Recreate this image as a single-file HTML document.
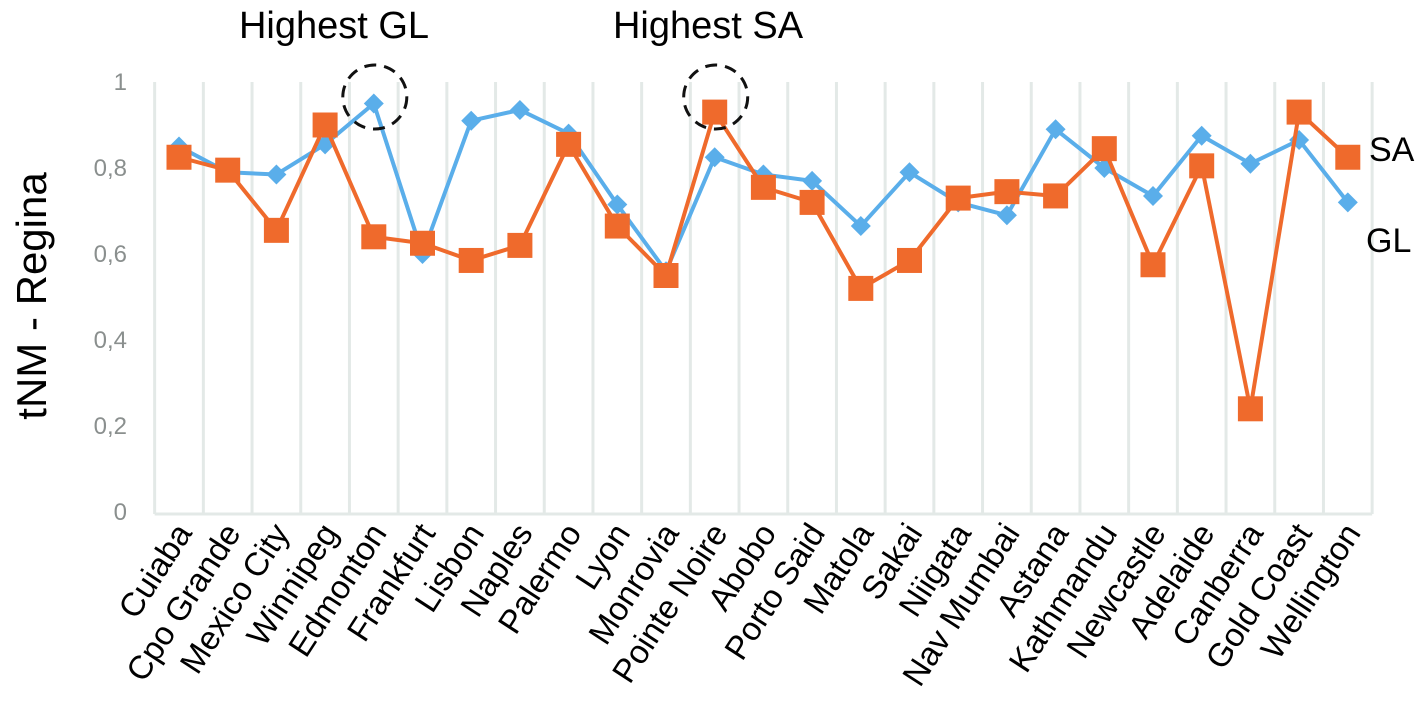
<!DOCTYPE html>
<html><head><meta charset="utf-8"><style>
body{margin:0;background:#fff;}
svg{display:block;font-family:"Liberation Sans",sans-serif;}
</style></head><body>
<svg id="chart" width="1421" height="708" viewBox="0 0 1421 708" xmlns="http://www.w3.org/2000/svg">
<g id="grid"></g>
<g id="yticks"></g>
<g id="xlabels"></g>
<g id="series"></g>
<text x="0" y="0" transform="translate(46,296) rotate(-90)" text-anchor="middle" font-size="42" fill="#000">tNM - Regina</text>
<text x="334" y="38" text-anchor="middle" font-size="38" fill="#000">Highest GL</text>
<text x="708" y="38" text-anchor="middle" font-size="38" fill="#000">Highest SA</text>
<text x="1369" y="161" font-size="34" fill="#000">SA</text>
<text x="1366" y="252" font-size="34" fill="#000">GL</text>
<g id="circles"></g>
</svg>
<script>
const categories=["Cuiaba","Cpo Grande","Mexico City","Winnipeg","Edmonton","Frankfurt","Lisbon","Naples","Palermo","Lyon","Monrovia","Pointe Noire","Abobo","Porto Said","Matola","Sakai","Niigata","Nav Mumbai","Astana","Kathmandu","Newcastle","Adelaide","Canberra","Gold Coast","Wellington"];
const glValues=[0.85,0.79,0.785,0.855,0.95,0.60,0.91,0.935,0.88,0.715,0.56,0.825,0.785,0.77,0.665,0.79,0.72,0.69,0.89,0.80,0.735,0.875,0.81,0.865,0.72];
const saValues=[0.825,0.795,0.655,0.90,0.64,0.625,0.585,0.62,0.855,0.665,0.55,0.93,0.755,0.72,0.52,0.585,0.73,0.745,0.735,0.845,0.575,0.805,0.24,0.93,0.825];
const yTickValues=[0,0.2,0.4,0.6,0.8,1];
const yTickLabels=["0","0,2","0,4","0,6","0,8","1"];
const highlightIdx=[4,11];

const NS="http://www.w3.org/2000/svg";
const x0=179,step=48.7,y0=512,yTop=82;
const xs=i=>x0+i*step;
const ys=v=>y0-(y0-yTop)*v;
function mk(tag,attrs,parent){const e=document.createElementNS(NS,tag);for(const k in attrs)e.setAttribute(k,attrs[k]);parent.appendChild(e);return e;}
const grid=document.getElementById('grid');
for(let i=0;i<=categories.length;i++){
  const x=xs(i)-step/2;
  const l=mk('line',{x1:x,x2:x,y1:ys(1),y2:ys(0)+2,stroke:'#e3e9e7','stroke-width':3},grid);
  
  
}
const base=mk('line',{x1:xs(0)-step/2,x2:xs(categories.length-1)+step/2,y1:ys(0)+2,y2:ys(0)+2,stroke:'#e3e9e7','stroke-width':3},grid);


const yt=document.getElementById('yticks');
yTickValues.forEach((v,i)=>{
  const t=mk('text',{x:127,y:ys(v)+8,'text-anchor':'end','font-size':24,fill:'#8a8f8e'},yt);
  t.textContent=yTickLabels[i];
  
  
});
const xl=document.getElementById('xlabels');
categories.forEach((c,i)=>{
  const x=xs(i)+14,y=533;
  const t=mk('text',{x:0,y:0,transform:`translate(${x},${y}) rotate(-57)`,'text-anchor':'end','font-size':33,fill:'#000'},xl);
  t.textContent=c;
  
  
});
const sg=document.getElementById('series');
function drawLine(vals,color,name){
  const p=mk('polyline',{points:vals.map((v,i)=>xs(i)+','+ys(v)).join(' '),fill:'none',stroke:color,'stroke-width':4,'stroke-linejoin':'round'},sg);
  
  
}
drawLine(glValues,'#5aaeea','gl-line');
glValues.forEach((v,i)=>{
  const x=xs(i),y=ys(v),r=10;
  const d=mk('polygon',{points:`${x},${y-r} ${x+r},${y} ${x},${y+r} ${x-r},${y}`,fill:'#5aaeea'},sg);
  
  
});
drawLine(saValues,'#ef6a2c','sa-line');
saValues.forEach((v,i)=>{
  const x=xs(i),y=ys(v),s=25;
  const r=mk('rect',{x:x-s/2,y:y-s/2,width:s,height:s,fill:'#ef6a2c'},sg);
  
  
});
const cg=document.getElementById('circles');
highlightIdx.forEach(i=>{
  const c=mk('circle',{cx:xs(i)+1,cy:97,r:32,fill:'none',stroke:'#111','stroke-width':3,'stroke-dasharray':'12 8'},cg);
  
  
});
</script>
</body></html>
